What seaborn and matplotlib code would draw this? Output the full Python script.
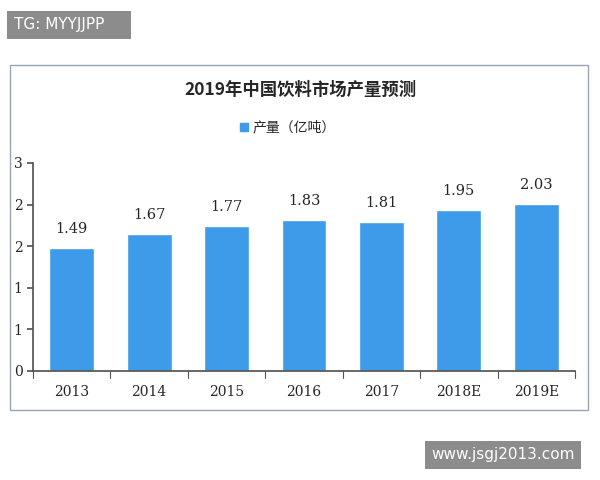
import matplotlib
matplotlib.use("Agg")
import matplotlib.pyplot as plt
import seaborn as sns
import pandas as pd

years = ["2013", "2014", "2015", "2016", "2017", "2018E", "2019E"]
bar_heights = [1.77, 1.98, 2.09, 2.18, 2.15, 2.32, 2.41]
value_labels = ["1.49", "1.67", "1.77", "1.83", "1.81", "1.95", "2.03"]
yticks = [0, 0.6, 1.2, 1.8, 2.4, 3.0]
ytick_labels = ["0", "1", "1", "2", "2", "3"]

sns.set_theme(style="white")
plt.rcParams['font.family'] = ['Noto Sans CJK SC', 'DejaVu Sans']

fig = plt.figure(figsize=(6, 4.8), dpi=100)
fig.patches.append(plt.Rectangle((10/600, 1-410/480), 578/600, 345/480, transform=fig.transFigure,
                                 fill=False, edgecolor="#9aa3b5", lw=1))
fig.text(14/600, 1-25/480, "TG: MYYJJPP    ", color="white", fontsize=11, va="center", ha="left",
         family="DejaVu Sans",
         bbox=dict(boxstyle="square,pad=0.45", fc="#8c8c8c", ec="none"))
fig.text(575/600, 1-455/480, "www.jsgj2013.com", color="white", fontsize=11, va="center", ha="right",
         family="DejaVu Sans",
         bbox=dict(boxstyle="square,pad=0.4", fc="#8c8c8c", ec="none"))
fig.text(0.5, 1-90/480, "2019年中国饮料市场产量预测", ha="center", va="center", fontsize=12.5, fontweight="bold")
fig.patches.append(plt.Rectangle((240/600, 1-131/480), 8/600, 8/480, transform=fig.transFigure,
                                 color="#3d9be9"))
fig.text(253/600, 1-127/480, "产量（亿吨）", ha="left", va="center", fontsize=10)

ax = fig.add_axes([33/600, 1-371/480, 542/600, 208/480])
df = pd.DataFrame({"year": years, "v": bar_heights})
sns.barplot(data=df, x="year", y="v", color="#3d9be9", saturation=1, width=0.58, ax=ax)
for i, t in enumerate(value_labels):
    ax.text(i, bar_heights[i] + 0.17, t, ha="center", va="bottom", fontsize=10.5, family="DejaVu Serif")
ax.set_ylim(0, 3.0)
ax.set_xlim(-0.5, len(years) - 0.5)
ax.set_yticks(yticks)
ax.set_yticklabels(ytick_labels, family="DejaVu Serif", fontsize=10)
ax.set_xticks(range(len(years)))
ax.set_xticklabels(years, family="DejaVu Serif", fontsize=10)
ax.set_xlabel(""); ax.set_ylabel("")
for s in ["top", "right"]:
    ax.spines[s].set_visible(False)
ax.spines["left"].set_color("#555"); ax.spines["bottom"].set_color("#555")
ax.tick_params(axis="y", length=4, color="#555", left=True)
ax.tick_params(axis="x", length=0, pad=10)
for x in [i + 0.5 for i in range(-1, len(years))]:
    ax.plot([x, x], [0, -0.1], color="#555", lw=0.8, clip_on=False)
fig.savefig("out.png")
